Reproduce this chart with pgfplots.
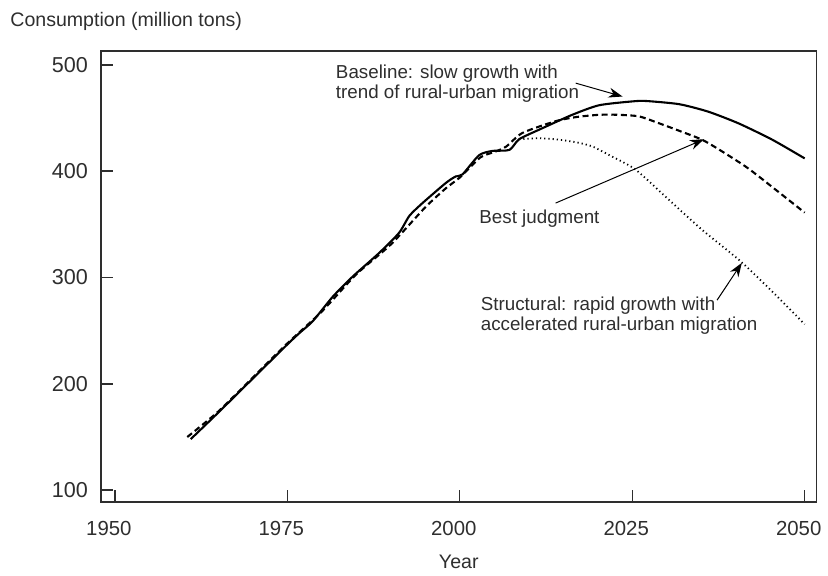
\documentclass[border=0pt]{standalone}
\usepackage{fontspec}
\setmainfont{Liberation Sans}
\usepackage{pgfplots}
\pgfplotsset{compat=1.18}
\usetikzlibrary{arrows.meta}
\definecolor{txt}{HTML}{2E2E2E}
\begin{document}
\begin{tikzpicture}
\begin{axis}[
  scale only axis,
  width=358.5pt, height=226pt,
  xmin=1947.97, xmax=2051.74,
  ymin=88.7, ymax=513.1,
  xtick={1950,1975,2000,2025,2050},
  ytick={100,200,300,400,500},
  tick pos=left,
  tick align=inside,
  major tick length=6pt,
  axis line style={line width=0.7pt, color=txt},
  every tick/.style={line width=0.7pt, color=txt},
  /pgf/number format/assume math mode=true,
  /pgf/number format/1000 sep={},
  ticklabel style={text=txt},
  xticklabel style={font=\fontsize{10.2}{12}\selectfont, yshift=-6pt, xshift=-3pt},
  yticklabel style={font=\fontsize{10.8}{12}\selectfont, xshift=-3pt},
  xlabel={Year},
  xlabel style={font=\fontsize{9.8}{12}\selectfont, text=txt, yshift=-3pt},
  clip=false,
]
% Baseline (solid)
\addplot[black, line width=1.05pt, smooth, tension=0.4] coordinates {
(1961,148) (1965,173) (1970,205) (1975,237) (1976.8,248) (1978.7,259)
(1981.6,282) (1984.5,301) (1988.3,323) (1991.2,342) (1992.7,358)
(1994.6,370) (1998,389) (1999.4,395) (2000.4,397) (2002.8,415)
(2004.7,419) (2007.2,420) (2008.6,430) (2011.5,439) (2016.3,453)
(2020.2,462) (2025,465.6) (2027,466) (2031.8,463) (2036,456)
(2040.4,445) (2045.3,429.6) (2050,412)
};
% Best judgment (dashed)
\addplot[black, line width=1.05pt, dash pattern=on 3pt off 1.8pt, smooth, tension=0.4] coordinates {
(1960.5,150) (1965,174) (1970,206) (1975,238) (1980,268) (1985,303)
(1990,331) (1995,366) (1998,384) (2000,394) (2003,413) (2005,418)
(2006.7,423) (2009.1,436) (2013.9,447) (2017,451) (2020.2,453)
(2023,453) (2026,451.5) (2028.9,445) (2032,437.5) (2035.6,428)
(2041.4,404.5) (2046,381.5) (2050,361)
};
% Structural (dotted)
\addplot[black, line width=0.9pt, dash pattern=on 0.6pt off 1.5pt, smooth, tension=0.4] coordinates {
(2008.6,430) (2011.5,431) (2014.4,429.6) (2017,427) (2019.2,423.3)
(2022,414) (2025.5,401.4) (2030.3,373.2) (2035.1,345) (2040.7,315.3)
(2045.5,285.5) (2050,256)
};
% arrows
\draw[line width=0.5pt, -{Stealth[length=7pt,width=5pt]}] (axis cs:2016.8,482.8) -- (axis cs:2023.6,470.2);
\draw[line width=0.5pt, -{Stealth[length=7pt,width=5pt]}] (axis cs:2013.9,370) -- (axis cs:2035.4,430);
\draw[line width=0.5pt, -{Stealth[length=7pt,width=5pt]}] (axis cs:2037.3,278.7) -- (axis cs:2040.9,313.8);
% labels
\node[anchor=west, align=left, text=txt, font=\fontsize{9.4}{10}\selectfont, inner sep=0pt] at (axis cs:1982,482) {Baseline: slow growth with\\trend of rural-urban migration};
\node[anchor=west, text=txt, font=\fontsize{9.4}{10}\selectfont, inner sep=0pt] at (axis cs:2002.8,355.4) {Best judgment};
\node[anchor=west, align=left, text=txt, font=\fontsize{9.4}{10}\selectfont, inner sep=0pt] at (axis cs:2003,264.3) {Structural: rapid growth with\\accelerated rural-urban migration};
\end{axis}
\node[anchor=west, text=txt, font=\fontsize{9.8}{12}\selectfont, inner sep=0pt] at ([xshift=-45.5pt,yshift=15pt]current axis.north west) {Consumption (million tons)};
\path ([xshift=-50.5pt,yshift=-35.5pt]current axis.south west) rectangle ([xshift=5pt,yshift=25.5pt]current axis.north east);
\end{tikzpicture}
\end{document}
